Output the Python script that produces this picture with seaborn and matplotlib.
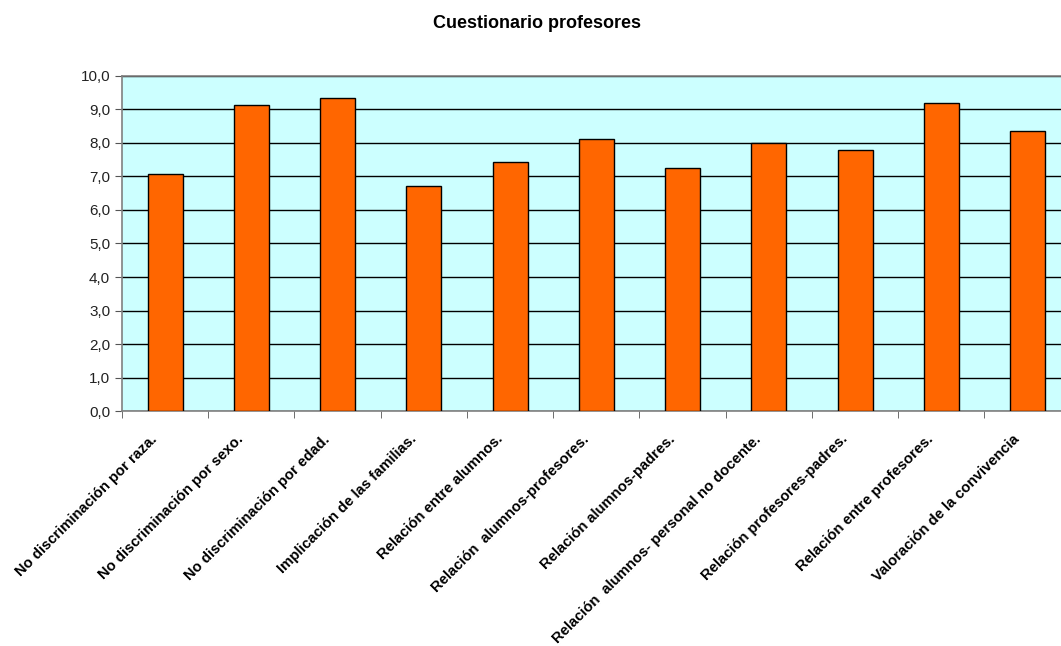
import matplotlib
matplotlib.use("Agg")
import matplotlib.pyplot as plt
import matplotlib.transforms as mtransforms
from matplotlib.ticker import FixedLocator, FuncFormatter
import pandas as pd
import seaborn as sns

# questionnaire items and average scores
items = [
    "No discriminación por raza.",
    "No discriminación por sexo.",
    "No discriminación por edad.",
    "Implicación de las familias.",
    "Relación entre alumnos.",
    "Relación  alumnos-profesores.",
    "Relación alumnos-padres.",
    "Relación  alumnos- personal no docente.",
    "Relación profesores-padres.",
    "Relación entre profesores.",
    "Valoración de la convivencia",
]
scores = [7.06, 9.13, 9.33, 6.71, 7.43, 8.12, 7.26, 7.99, 7.79, 9.18, 8.34]
y_ticks = [0, 1, 2, 3, 4, 5, 6, 7, 8, 9, 10]

df = pd.DataFrame({"item": items, "score": scores})

plt.rcParams["font.family"] = ["Liberation Sans", "DejaVu Sans"]

fig = plt.figure(figsize=(10.61, 6.46), dpi=100)
# plot area runs a bit past the right edge, like the original
ax = fig.add_axes([122 / 1061, (646 - 411.3) / 646, 948.7 / 1061, 335.6 / 646])
ax.set_facecolor("#CCFFFF")

sns.barplot(data=df, x="item", y="score", color="#FF6600", width=0.406,
            edgecolor="black", linewidth=1, saturation=1, ax=ax, zorder=3)

ax.set_ylim(0, 10)
ax.set_xlim(-0.5, len(items) - 0.5)
ax.yaxis.set_major_locator(FixedLocator(y_ticks))
ax.yaxis.set_major_formatter(FuncFormatter(lambda v, p: f"{v:.1f}".replace(".", ",")))
ax.grid(axis="y", color="black", linewidth=1, zorder=1)
ax.set_axisbelow(True)

# category boundary ticks
ax.xaxis.set_minor_locator(FixedLocator([i - 0.5 for i in range(len(items) + 1)]))
ax.tick_params(axis="x", which="major", length=0, pad=15)
ax.tick_params(axis="x", which="minor", length=5, direction="out", color="#555555")
ax.tick_params(axis="y", length=5, direction="out", color="#555555", labelsize=11, labelcolor="#222222")

offset = mtransforms.ScaledTranslation(-5 / 100, 0, fig.dpi_scale_trans)
for lab in ax.get_xticklabels():
    lab.set_rotation(45)
    lab.set_ha("right")
    lab.set_fontsize(10.6)
    lab.set_fontweight("bold")
    lab.set_transform(lab.get_transform() + offset)

for s in ["left", "bottom", "top", "right"]:
    ax.spines[s].set_color("#808080")
    ax.spines[s].set_linewidth(1.2)

ax.set_xlabel("")
ax.set_ylabel("")

fig.text(537 / 1061, 1 - 28.3 / 646, "Cuestionario profesores", ha="center", va="baseline",
         fontsize=13, fontweight="bold")

fig.savefig("out.png", dpi=100)
